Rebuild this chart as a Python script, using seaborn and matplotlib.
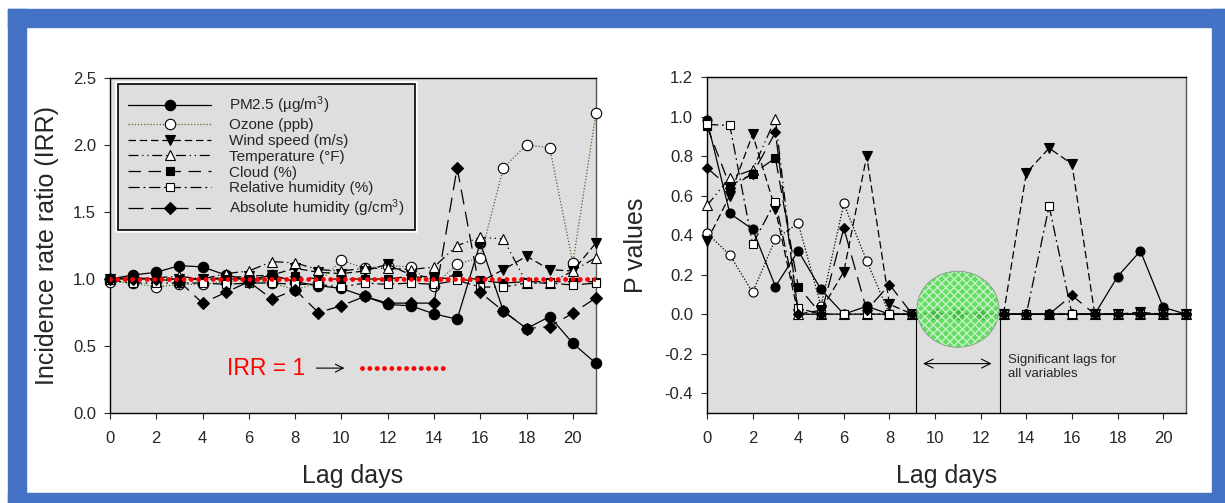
import numpy as np
import pandas as pd
import seaborn as sns
import matplotlib.pyplot as plt
from matplotlib.patches import Ellipse, Rectangle
from matplotlib.ticker import FormatStrFormatter
import matplotlib.patheffects as pe

# lag days 0..21
lags = list(range(22))

# left panel: incidence rate ratios
irr_pm25 = [1.00, 1.03, 1.05, 1.10, 1.09, 1.03, 0.99, 1.03, 0.98, 0.95, 0.93,
            0.87, 0.81, 0.80, 0.74, 0.70, 1.27, 0.76, 0.63, 0.72, 0.52, 0.37]
irr_ozone = [0.98, 0.97, 0.94, 0.96, 0.96, 0.98, 1.00, 0.97, 0.92, 0.97, 1.14,
             1.08, 1.10, 1.09, 0.95, 1.11, 1.16, 1.83, 2.00, 1.98, 1.12, 2.24]
irr_wind = [1.00, 1.01, 1.00, 1.00, 1.00, 1.01, 1.02, 1.03, 1.08, 1.05, 1.04,
            1.06, 1.11, 1.03, 1.01, 1.00, 0.98, 1.07, 1.17, 1.07, 1.06, 1.27]
irr_temp = [1.00, 1.00, 1.01, 1.02, 1.00, 1.04, 1.06, 1.13, 1.12, 1.07, 1.06,
            1.08, 1.08, 1.07, 1.09, 1.25, 1.31, 1.30, 0.97, 0.97, 1.06, 1.16]
irr_cloud = [1.00, 1.01, 1.00, 1.00, 1.00, 1.00, 1.00, 1.00, 1.02, 1.00, 1.00,
             1.00, 1.00, 1.02, 1.00, 1.03, 0.99, 0.97, 0.98, 0.98, 0.98, 0.98]
irr_rh = [0.99, 0.97, 0.97, 0.97, 0.97, 0.96, 0.97, 0.97, 0.96, 0.96, 0.94,
          0.97, 0.96, 0.97, 0.96, 0.99, 0.94, 0.94, 0.97, 0.97, 0.955, 0.97]
irr_ah = [1.00, 1.00, 1.00, 0.98, 0.82, 0.90, 0.98, 0.85, 0.92, 0.75, 0.80,
          0.87, 0.82, 0.82, 0.82, 1.83, 0.90, 0.76, 0.63, 0.645, 0.745, 0.86]

# right panel: p values
p_pm25 = [0.98, 0.51, 0.43, 0.14, 0.32, 0.125, 0.0, 0.04, 0.0, 0.0, 0.0,
          0.0, 0.0, 0.0, 0.0, 0.0, 0.0, 0.0, 0.19, 0.32, 0.035, 0.0]
p_ozone = [0.41, 0.30, 0.11, 0.38, 0.46, 0.04, 0.56, 0.27, 0.0, 0.0, 0.0,
           0.0, 0.0, 0.0, 0.0, 0.0, 0.0, 0.0, 0.0, 0.0, 0.0, 0.0]
p_wind = [0.37, 0.60, 0.91, 0.53, 0.0, 0.02, 0.215, 0.80, 0.05, 0.0, 0.0,
          0.0, 0.0, 0.0, 0.715, 0.84, 0.76, 0.0, 0.0, 0.01, 0.0, 0.0]
p_temp = [0.55, 0.69, 0.73, 0.99, 0.0, 0.0, 0.0, 0.0, 0.0, 0.0, 0.0,
          0.0, 0.0, 0.0, 0.0, 0.0, 0.0, 0.0, 0.0, 0.0, 0.0, 0.0]
p_cloud = [0.95, 0.65, 0.71, 0.79, 0.14, 0.0, 0.0, 0.0, 0.0, 0.0, 0.0,
           0.0, 0.0, 0.0, 0.0, 0.0, 0.0, 0.0, 0.0, 0.0, 0.0, 0.0]
p_rh = [0.96, 0.955, 0.355, 0.57, 0.03, 0.0, 0.0, 0.0, 0.0, 0.0, 0.0,
        0.0, 0.0, 0.0, 0.0, 0.547, 0.0, 0.0, 0.0, 0.0, 0.0, 0.0]
p_ah = [0.74, 0.64, 0.71, 0.92, 0.0, 0.0, 0.435, 0.02, 0.15, 0.0, 0.0,
        0.0, 0.0, 0.0, 0.0, 0.0, 0.095, 0.0, 0.0, 0.0, 0.0, 0.0]

labels = ["PM2.5 (µg/m$^3$)", "Ozone (ppb)", "Wind speed (m/s)",
          "Temperature (°F)", "Cloud (%)", "Relative humidity (%)",
          "Absolute humidity (g/cm$^3$)"]

irr_ref = 1.0
sig_lags = [9.15, 12.85]

sns.set_style("ticks", {"axes.facecolor": "#dedede", "axes.edgecolor": "black"})
plt.rcParams["font.family"] = ["Liberation Sans", "DejaVu Sans"]
plt.rcParams["mathtext.fontset"] = "custom"
plt.rcParams["mathtext.rm"] = "Liberation Sans"
plt.rcParams["mathtext.default"] = "regular"

# marker, filled?, linestyle
styles = [
    ("o", True, "-"),
    ("o", False, (0, (1, 1.5))),
    ("v", True, (0, (6, 3))),
    ("^", False, (0, (8, 3, 1, 3, 1, 3))),
    ("s", True, (0, (10, 6))),
    ("s", False, (0, (9, 3, 1.5, 3))),
    ("D", True, (0, (12, 6))),
]

fig = plt.figure(figsize=(12.25, 5.03), dpi=100)

# blue frame
blue = "#4472c4"
W, H = 1225, 503
for x0, y0, x1, y1 in [(8, 9, 1225, 27), (8, 9, 26, 503), (1212, 9, 1225, 503), (8, 493, 1225, 503)]:
    fig.patches.append(Rectangle((x0 / W, 1 - y1 / H), (x1 - x0) / W, (y1 - y0) / H,
                                 transform=fig.transFigure, color=blue, zorder=0))

ax1 = fig.add_axes([110 / W, 1 - 413 / H, 486 / W, 335 / H])
ax2 = fig.add_axes([707 / W, 1 - 413 / H, 479 / W, 336 / H])

left_series = [irr_pm25, irr_ozone, irr_wind, irr_temp, irr_cloud, irr_rh, irr_ah]
right_series = [p_pm25, p_ozone, p_wind, p_temp, p_cloud, p_rh, p_ah]

for ax, series, ms in [(ax1, left_series, 7.5), (ax2, right_series, 6.5)]:
    for i, (vals, lab) in enumerate(zip(series, labels)):
        mk, filled, ls = styles[i]
        col = "#4a6a2a" if (i == 1 and ax is ax1) else "black"
        size = ms - 1.2 if mk in ("s", "D") else ms
        sns.lineplot(x=lags, y=vals, ax=ax, label=lab, color=col, linestyle=ls,
                     linewidth=0.9, marker=mk, markersize=size,
                     markerfacecolor="black" if filled else "white",
                     markeredgecolor="black", markeredgewidth=0.8,
                     clip_on=False, zorder=3)

# left panel extras
ax1.axhline(irr_ref, color="red", linewidth=3.5, linestyle=(0, (0.01, 1.5)),
            dash_capstyle="round", zorder=4)
ax1.text(5.05, 0.335, "IRR = 1", color="red", fontsize=16.5, va="center")
ax1.annotate("", xy=(10.25, 0.335), xytext=(8.8, 0.335),
             arrowprops=dict(arrowstyle="->", color="black", lw=0.8, mutation_scale=14))
ax1.plot([10.9, 14.6], [0.335, 0.335], color="red", linewidth=3.5,
         linestyle=(0, (0.01, 1.5)), dash_capstyle="round")

ax1.set_xlim(0, 21)
ax1.set_ylim(0, 2.5)
ax1.set_yticks(np.arange(0, 2.51, 0.5))
ax1.yaxis.set_major_formatter(FormatStrFormatter("%.1f"))
ax1.set_ylabel("Incidence rate ratio (IRR)", fontsize=18, labelpad=10)

leg = ax1.legend(loc="upper left", bbox_to_anchor=(0.016, 0.982), borderaxespad=0,
                 fontsize=11, handlelength=5.4, handletextpad=1.2, labelspacing=0.12,
                 borderpad=0.7, frameon=True, fancybox=False, framealpha=1)
frame = leg.get_frame()
frame.set_facecolor("#dedede")
frame.set_edgecolor("black")
frame.set_linewidth(1.2)
frame.set_path_effects([pe.withStroke(linewidth=4, foreground="white")])

# right panel extras
ax2.add_patch(Ellipse((11, 0.025), 3.6, 0.385, facecolor="#4cdc4c", edgecolor="#d6f7d6",
                      hatch="xxxx", linewidth=0, alpha=0.85, zorder=5))
ax2.add_patch(Ellipse((11, 0.025), 3.6, 0.385, facecolor="none", edgecolor="#8a9a8a",
                      linewidth=0.6, zorder=5))
ax2.vlines(sig_lags, -0.5, 0, color="black", linewidth=0.8)
ax2.annotate("", xy=(9.35, -0.25), xytext=(12.6, -0.25),
             arrowprops=dict(arrowstyle="<->", color="black", lw=0.8, mutation_scale=16))
ax2.text(13.2, -0.2, "Significant lags for\nall variables", fontsize=9.5, va="top",
         linespacing=1.25)

ax2.set_xlim(0, 21)
ax2.set_ylim(-0.5, 1.2)
ax2.set_yticks(np.arange(-0.4, 1.21, 0.2))
ax2.yaxis.set_major_formatter(FormatStrFormatter("%.1f"))
ax2.set_ylabel("P values", fontsize=18, labelpad=12)

for ax in (ax1, ax2):
    ax.set_xticks(range(0, 21, 2))
    ax.set_xlabel("Lag days", fontsize=18, labelpad=13)
    ax.tick_params(axis="x", direction="out", length=4, width=0.8, pad=9, labelsize=12)
    ax.tick_params(axis="y", direction="out", length=4, width=0.8, pad=6, labelsize=12)
    for sp in ax.spines.values():
        sp.set_visible(True)
        sp.set_linewidth(1.0)
    ax.spines["right"].set_color("#555555")
    ax.grid(False)

if ax2.get_legend():
    ax2.get_legend().remove()

fig.savefig("out.png", dpi=100, facecolor="white")
